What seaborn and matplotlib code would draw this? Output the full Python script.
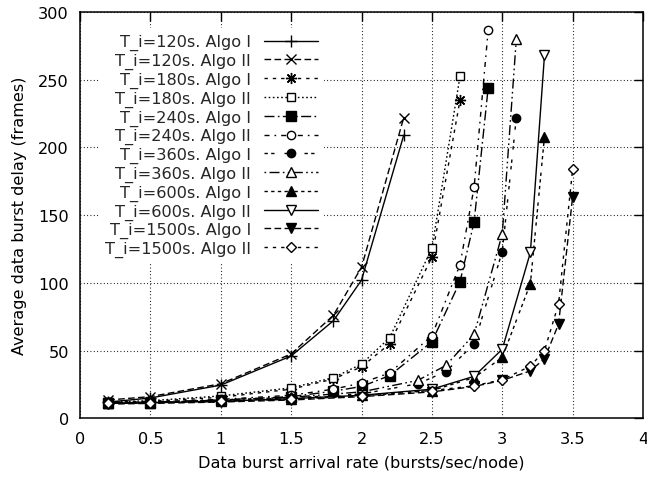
import matplotlib
matplotlib.use("Agg")
import matplotlib.pyplot as plt
import seaborn as sns
import pandas as pd
from matplotlib.ticker import FuncFormatter

# ---- data ----
x120 = [0.2, 0.5, 1, 1.5, 1.8, 2, 2.3]
y120_algo1 = [12, 15, 24.5, 46, 72, 102, 209]
y120_algo2 = [13.5, 16, 25.5, 47.5, 76, 111.5, 222]

x180 = [0.2, 0.5, 1, 1.5, 1.8, 2, 2.2, 2.5, 2.7]
y180_algo1 = [12, 12.5, 15.5, 21.5, 29, 38, 55, 119, 235]
y180_algo2 = [12, 13, 16.5, 22.5, 30, 40, 59.5, 125.5, 252.5]

x240 = [0.2, 0.5, 1, 1.5, 1.8, 2, 2.2, 2.5, 2.7, 2.8, 2.9]
y240_algo1 = [11, 11.5, 13.5, 16, 20, 23.5, 31.5, 56.5, 101, 145, 244]
y240_algo2 = [11.5, 12, 14, 17, 21.5, 26, 33.5, 61, 113.5, 170.5, 286.5]

x360 = [0.2, 0.5, 1, 1.5, 2, 2.4, 2.6, 2.8, 3.0, 3.1]
y360_algo1 = [11, 11.5, 13, 15, 18, 25.5, 34.5, 55, 123, 222]
y360_algo2 = [11.5, 12, 13.5, 15.5, 19.5, 28, 39, 62, 136, 280]

x600 = [0.2, 0.5, 1, 1.5, 2, 2.5, 2.8, 3.0, 3.2, 3.3]
y600_algo1 = [11, 11.5, 12.5, 14.5, 17, 20.5, 30, 45, 99.5, 208]
y600_algo2 = [11, 11.5, 12.5, 14.5, 17, 21.5, 31, 51, 122.5, 268]

x1500 = [0.2, 0.5, 1, 1.5, 2, 2.5, 2.8, 3.0, 3.2, 3.3, 3.4, 3.5]
y1500_algo1 = [10.5, 11, 12, 13.5, 16, 19.5, 23.5, 28, 35, 44, 69.5, 163.5]
y1500_algo2 = [11, 11.5, 12.5, 14, 16.5, 20.5, 24, 28.5, 38.5, 50, 84.5, 184]

labels = ["T_i=120s. Algo I", "T_i=120s. Algo II",
          "T_i=180s. Algo I", "T_i=180s. Algo II",
          "T_i=240s. Algo I", "T_i=240s. Algo II",
          "T_i=360s. Algo I", "T_i=360s. Algo II",
          "T_i=600s. Algo I", "T_i=600s. Algo II",
          "T_i=1500s. Algo I", "T_i=1500s. Algo II"]
xs = [x120, x120, x180, x180, x240, x240, x360, x360, x600, x600, x1500, x1500]
ys = [y120_algo1, y120_algo2, y180_algo1, y180_algo2, y240_algo1, y240_algo2,
      y360_algo1, y360_algo2, y600_algo1, y600_algo2, y1500_algo1, y1500_algo2]

x_ticks = [0, 0.5, 1, 1.5, 2, 2.5, 3, 3.5, 4]
y_ticks = [0, 50, 100, 150, 200, 250, 300]

# ---- styles (gnuplot-like) ----
u = 1.2
dash_patterns = [
    None,
    (4, 2), (2, 3), (1, 1.5), (6, 2, 1, 2), (3, 3, 1, 3), (2, 2, 2, 6),
    (1, 2, 6, 2, 1, 2), (2, 2, 2, 2, 2, 2, 2, 4),
    None, (4, 2), (2, 3),
]
markers = ["+", "x", (8, 2, 0), "s", "s", "o", "o", "^", "^", "v", "v", "D"]
filled = [True, True, True, False, True, False, True, False, True, False, True, False]
msizes = [9, 7, 8, 5.5, 6.5, 6, 6, 6.5, 6.5, 6.5, 6.5, 5]

sns.set_theme(style="white")
plt.rcParams["font.family"] = ["DejaVu Sans"]
plt.rcParams["font.size"] = 11.6

fig = plt.figure(figsize=(6.47, 4.85), dpi=100)
ax = fig.add_axes([80 / 647, 1 - 419.3 / 485, 563 / 647, (419.3 - 13) / 485])

handles = []
for i, (x, y, lab) in enumerate(zip(xs, ys, labels)):
    df = pd.DataFrame({"rate": x, "delay": y})
    kw = dict(color="black", linewidth=1.0, marker=markers[i], markersize=msizes[i],
              markeredgecolor="black", markeredgewidth=1.0,
              markerfacecolor="black" if filled[i] else "white")
    if dash_patterns[i] is None:
        kw["linestyle"] = "-"
    else:
        kw["linestyle"] = (0, tuple(d * u for d in dash_patterns[i]))
    sns.lineplot(data=df, x="rate", y="delay", ax=ax, legend=False, **kw)
    ln = ax.lines[-1]
    ln.set_label(lab)
    handles.append(ln)

ax.set_xlim(0, 4)
ax.set_ylim(0, 300)
ax.set_xticks(x_ticks)
ax.set_yticks(y_ticks)
ax.xaxis.set_major_formatter(FuncFormatter(lambda v, p: f"{v:g}"))
ax.tick_params(direction="in", length=6.5, width=1.0, top=True, right=True,
               labelsize=11.6, colors="black", pad=8)
ax.tick_params(axis="x", pad=9)
for s in ax.spines.values():
    s.set_color("black")
    s.set_linewidth(1.1)
ax.grid(True, color="black", linestyle=(0, (0.8, 2.2)), linewidth=0.8)
ax.set_axisbelow(True)

ax.set_xlabel("Data burst arrival rate (bursts/sec/node)", fontsize=11.6, color="black", labelpad=6)
ax.set_ylabel("Average data burst delay (frames)", fontsize=11.6, color="black", labelpad=8)

leg = ax.legend(handles=handles, labels=labels, loc="upper right",
                bbox_to_anchor=(0.434, 0.961), frameon=True, fancybox=False,
                markerfirst=False, handlelength=3.35, handletextpad=0.8,
                labelspacing=0.16, borderpad=0.4, borderaxespad=0, numpoints=1,
                fontsize=11.6, framealpha=1.0)
leg.get_frame().set_facecolor("white")
leg.get_frame().set_linewidth(0)

fig.savefig("out.png", dpi=100, facecolor="white")
